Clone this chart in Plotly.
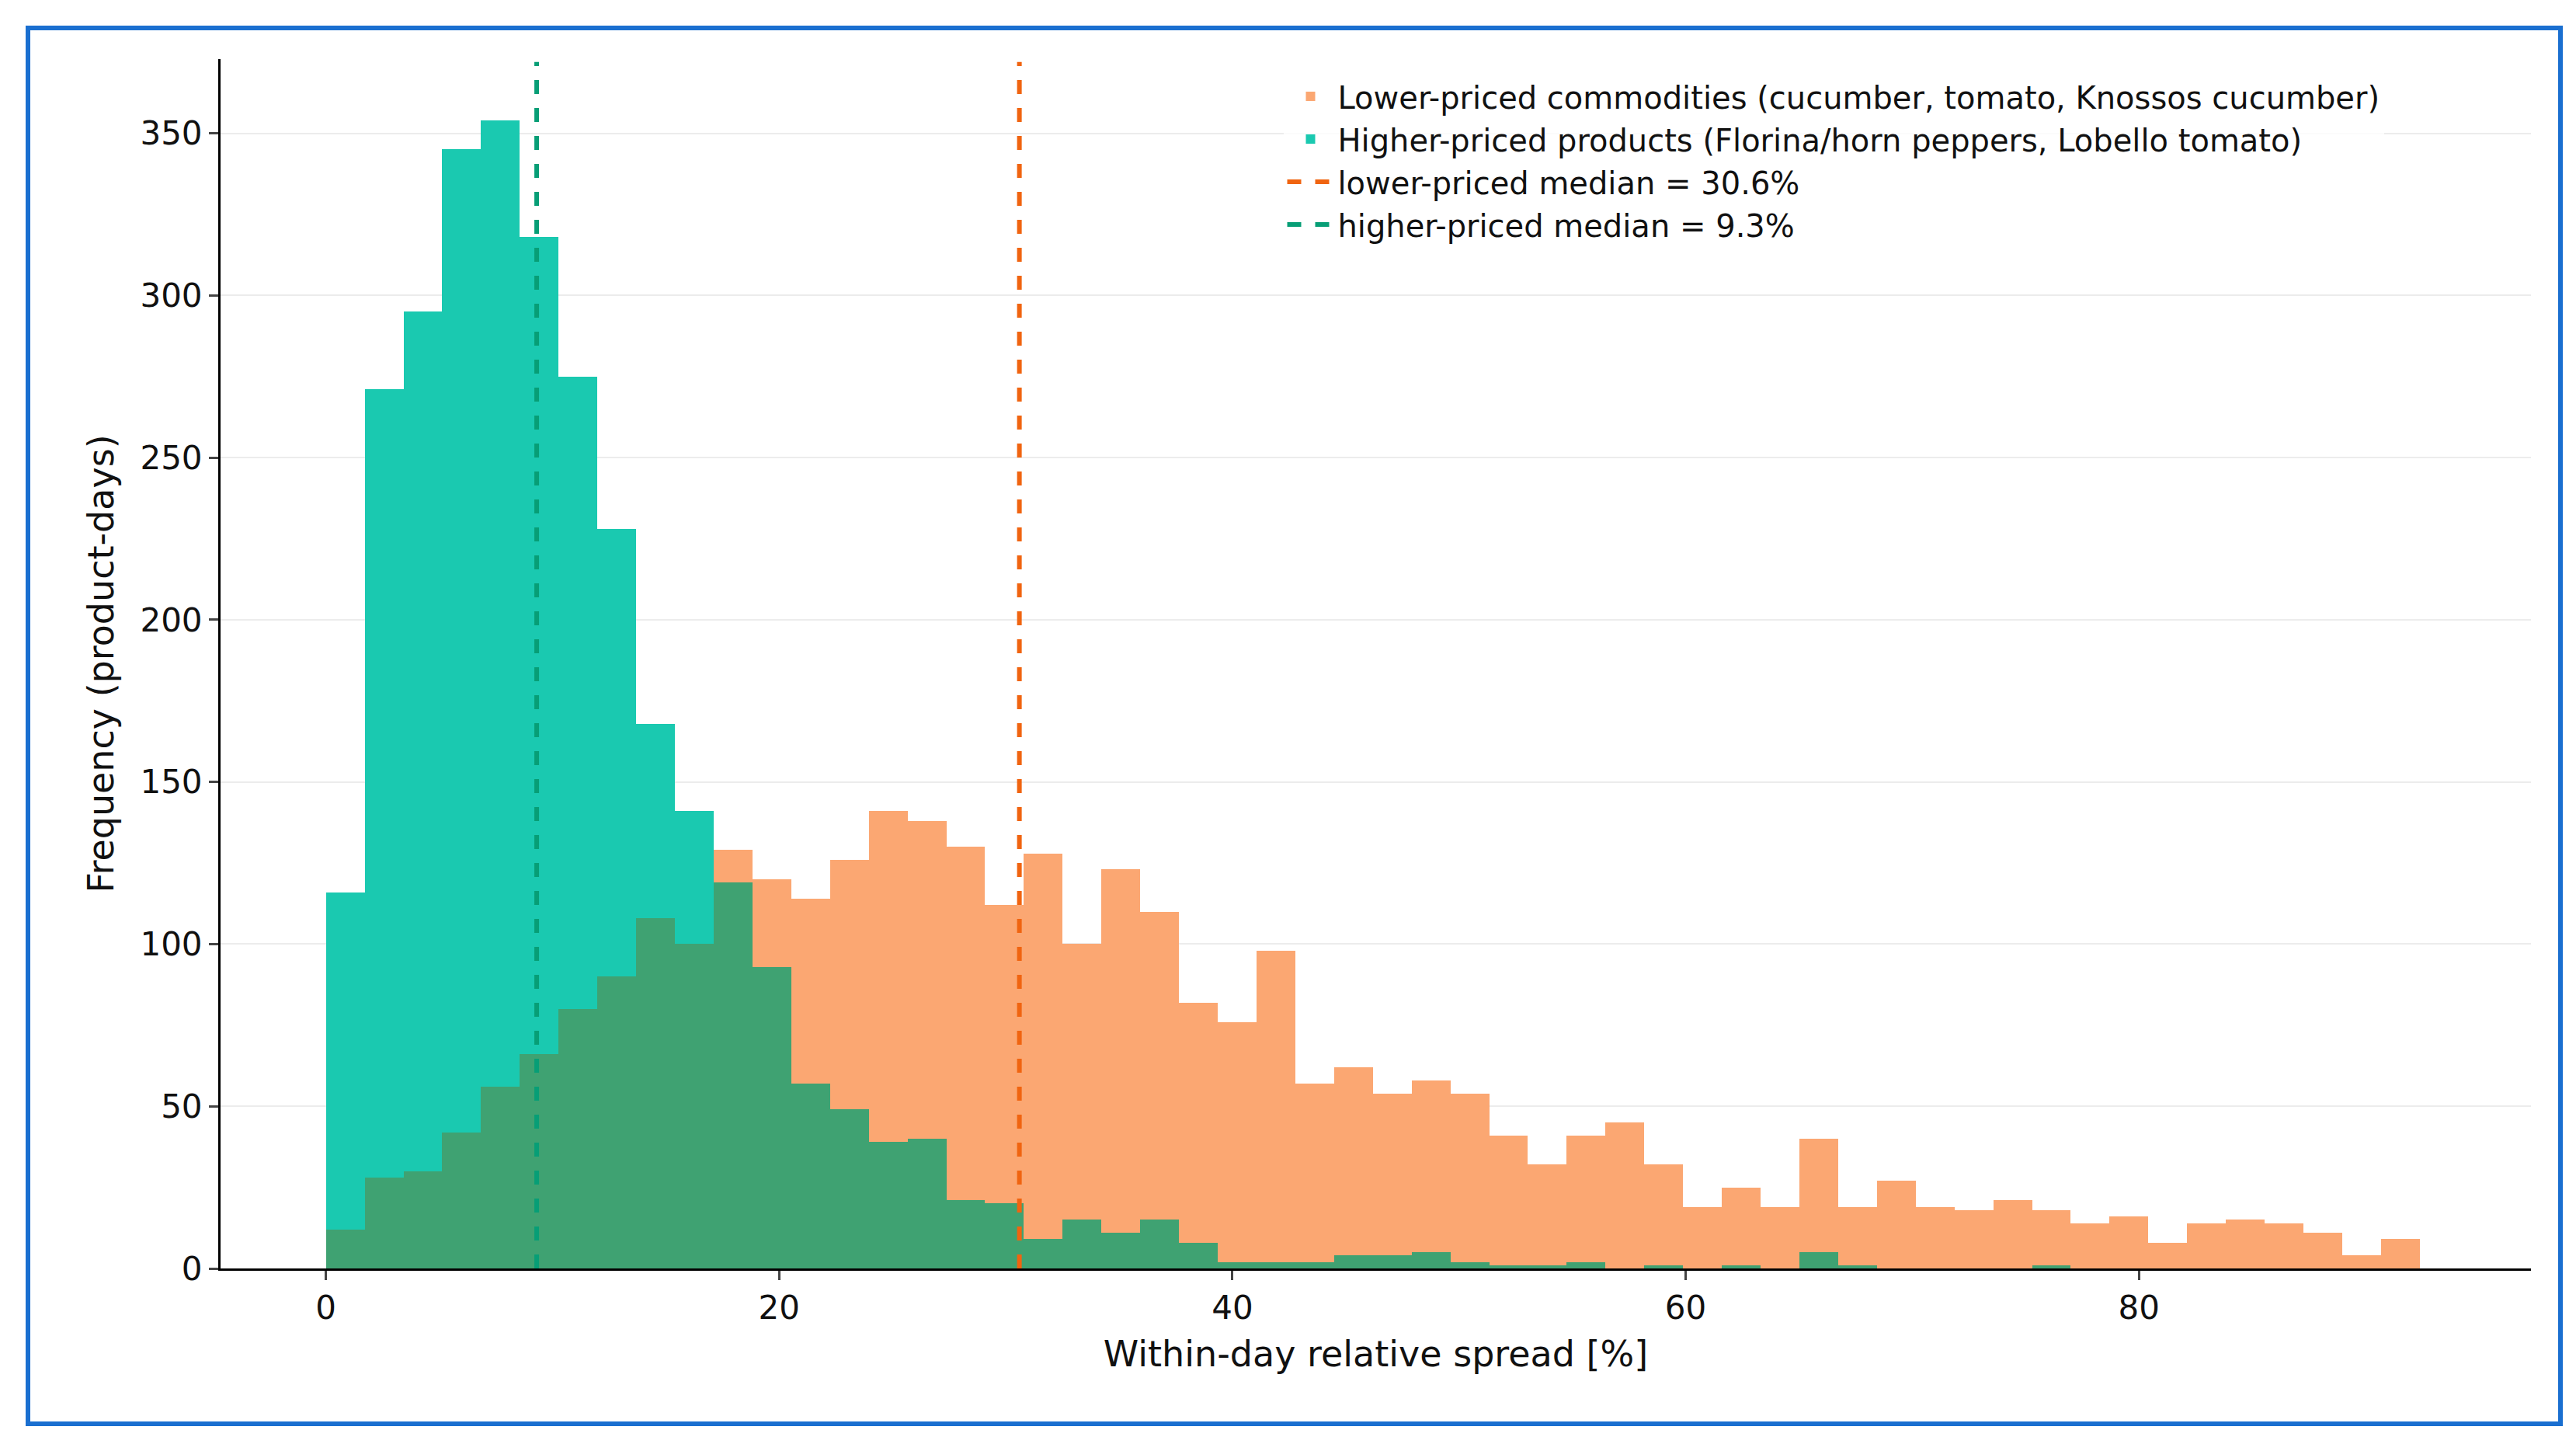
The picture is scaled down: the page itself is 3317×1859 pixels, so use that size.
import numpy as np
import plotly.graph_objects as go

# histogram counts (54 equal bins, 0 .. ~92.4 %)
bin_width = 1.711
lower_counts = [12, 28, 30, 42, 56, 66, 80, 90, 108, 100, 129, 120, 114, 126, 141, 138, 130, 112,
                128, 100, 123, 110, 82, 76, 98, 57, 62, 54, 58, 54, 41, 32, 41, 45, 32, 19, 25, 19,
                40, 19, 27, 19, 18, 21, 18, 14, 16, 8, 14, 15, 14, 11, 4, 9]
higher_counts = [116, 271, 295, 345, 354, 318, 275, 228, 168, 141, 119, 93, 57, 49, 39, 40, 21, 20,
                 9, 15, 11, 15, 8, 2, 2, 2, 4, 4, 5, 2, 1, 1, 2, 0, 1, 0, 1, 0,
                 5, 1, 0, 0, 0, 0, 1, 0, 0, 0, 0, 0, 0, 0, 0, 0]
lower_median = 30.6
higher_median = 9.3

centers = (np.arange(len(lower_counts)) + 0.5) * bin_width
overlap = np.minimum(lower_counts, higher_counts)

fig = go.Figure()
fig.add_trace(go.Bar(x=centers, y=lower_counts, width=bin_width, marker_color="#fba772",
                     marker_line_width=0,
                     name="Lower-priced commodities (cucumber, tomato, Knossos cucumber)"))
fig.add_trace(go.Bar(x=centers, y=higher_counts, width=bin_width, marker_color="#1ac9b0",
                     marker_line_width=0,
                     name="Higher-priced products (Florina/horn peppers, Lobello tomato)"))
fig.add_trace(go.Bar(x=centers, y=overlap, width=bin_width, marker_color="#3fa272",
                     marker_line_width=0, showlegend=False, hoverinfo="skip"))
fig.add_trace(go.Scatter(x=[lower_median, lower_median], y=[0, 372], mode="lines",
                         line=dict(color="#f06410", width=6, dash="dash"),
                         name=f"lower-priced median = {lower_median}%"))
fig.add_trace(go.Scatter(x=[higher_median, higher_median], y=[0, 372], mode="lines",
                         line=dict(color="#079e76", width=6, dash="dash"),
                         name=f"higher-priced median = {higher_median}%"))

fig.update_layout(
    width=3317, height=1859,
    barmode="overlay", bargap=0,
    plot_bgcolor="white", paper_bgcolor="white",
    font=dict(family="DejaVu Sans", size=42, color="#111"),
    margin=dict(l=276, r=66, t=68, b=234),
    legend=dict(x=0.46, y=0.99, xanchor="left", yanchor="top", bgcolor="rgba(255,255,255,0.8)",
                font=dict(size=40), tracegroupgap=0, itemwidth=60),
    xaxis=dict(range=[-4.65, 97.3], tickvals=[0, 20, 40, 60, 80], showgrid=False,
               showline=True, linecolor="black", linewidth=3, ticks="outside", ticklen=12,
               tickwidth=3, zeroline=False,
               title=dict(text="Within-day relative spread [%]", font=dict(size=46), standoff=20)),
    yaxis=dict(range=[0, 372.9], tickvals=[0, 50, 100, 150, 200, 250, 300, 350],
               showgrid=True, gridcolor="#ececec", gridwidth=2, showline=True,
               linecolor="black", linewidth=3, ticks="outside", ticklen=12, tickwidth=3,
               zeroline=False,
               title=dict(text="Frequency (product-days)", font=dict(size=46), standoff=20)),
)

# blue outer frame
fig.add_shape(type="rect", xref="paper", yref="paper",
              x0=-(276 - 28) / 2975, x1=1 + (3289 - 3251) / 2975,
              y0=-(1825 - 1625) / 1557, y1=1 + (68 - 28) / 1557,
              line=dict(color="#1a6fd0", width=6), layer="below")

fig.write_html("out.html")
